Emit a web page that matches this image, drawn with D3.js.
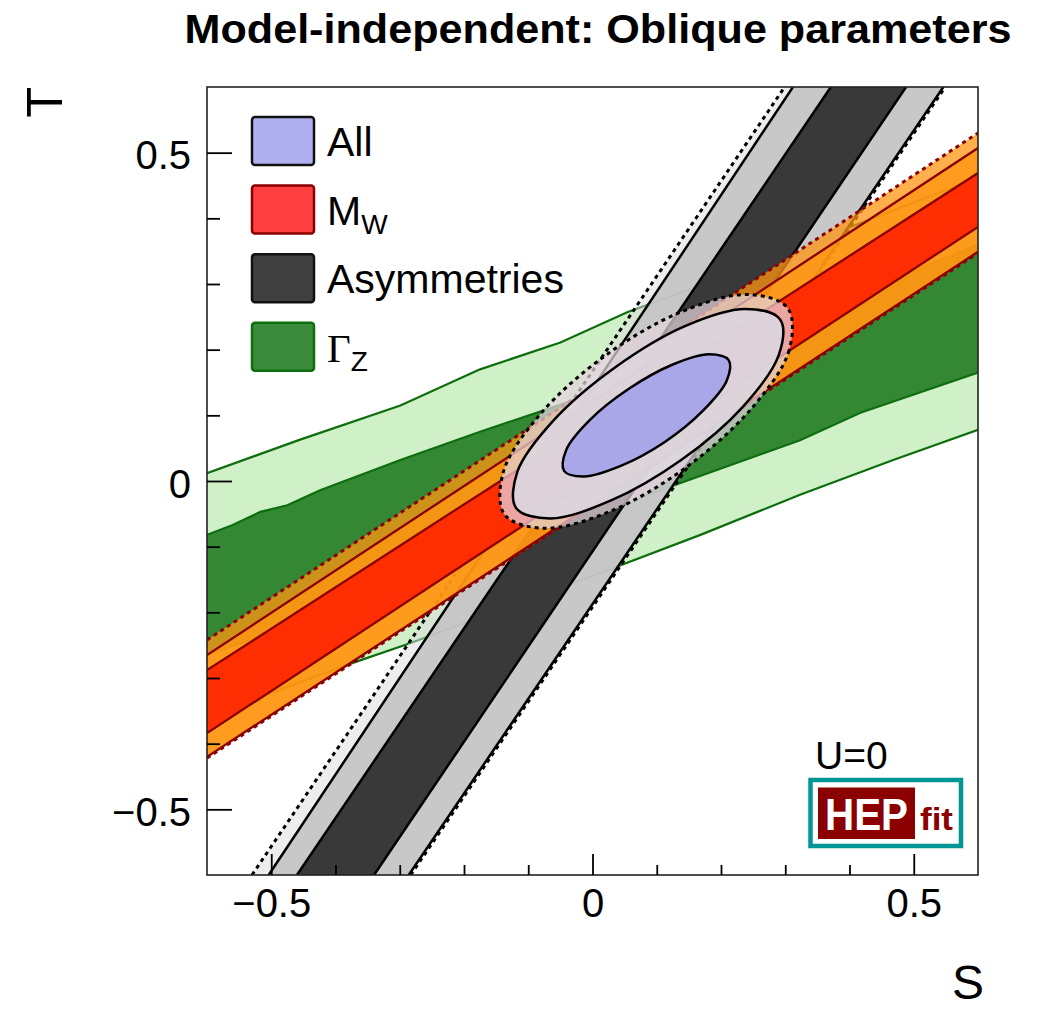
<!DOCTYPE html>
<html>
<head>
<meta charset="utf-8">
<script src="https://cdn.jsdelivr.net/npm/d3@7"></script>
<style>
  body { margin: 0; background: #fff; }
  text { font-family: "Liberation Sans", Arial, Helvetica, sans-serif; }
</style>
</head>
<body>
<svg id="chart" width="1039" height="1009"></svg>
<script>
// axis ranges and ticks
var sRange = [-0.6, 0.6], tRange = [-0.6, 0.6];
var majorTicks = [-0.5, 0, 0.5];
var minorTicks = [-0.4, -0.3, -0.2, -0.1, 0.1, 0.2, 0.3, 0.4];

// Gamma_Z band (68% inner / 95% outer), edges as (S, T)
var gzOuterTopS = [-0.6, -0.455, -0.299, -0.175, -0.050, 0.054, 0.168, 0.323, 0.6];
var gzOuterTopT = [0.012, 0.063, 0.115, 0.170, 0.211, 0.257, 0.298, 0.357, 0.462];
var gzOuterBotS = [-0.6, -0.486, -0.382, -0.284, -0.144, 0.012, 0.168, 0.323, 0.468, 0.6];
var gzOuterBotT = [-0.355, -0.318, -0.280, -0.247, -0.196, -0.140, -0.082, -0.021, 0.032, 0.078];
var gzInnerTopS = [-0.6, -0.560, -0.517, -0.475, -0.424, -0.299, -0.175, -0.050, 0.074, 0.261, 0.6];
var gzInnerTopT = [-0.082, -0.067, -0.047, -0.037, -0.014, 0.032, 0.075, 0.116, 0.158, 0.225, 0.36];
var gzInnerBotS = [-0.6, -0.299, -0.050, 0.137, 0.323, 0.417, 0.6];
var gzInnerBotT = [-0.265, -0.163, -0.070, -0.003, 0.062, 0.104, 0.165];

// M_W band, T at S = -0.6 and S = 0.6
var mwS = [-0.6, 0.6];
var mw3Top = [-0.242, 0.530], mw2Top = [-0.265, 0.507], mw1Top = [-0.288, 0.469];
var mw1Bot = [-0.384, 0.387], mw2Bot = [-0.420, 0.349], mw3Bot = [-0.422, 0.347];

// Asymmetries band, S at T = -0.6 and T = 0.6
var asT = [-0.6, 0.6];
var as3Left = [-0.530, 0.299], as2Left = [-0.504, 0.312], as1Left = [-0.460, 0.371];
var as1Right = [-0.340, 0.488], as2Right = [-0.286, 0.546], as3Right = [-0.283, 0.549];

// All: contour points (S, T)
var all1S = [0.212, 0.209, 0.172, 0.112, 0.044, -0.013, -0.044, -0.041, -0.004, 0.056, 0.124, 0.181];
var all1T = [0.184, 0.153, 0.107, 0.059, 0.023, 0.007, 0.015, 0.047, 0.093, 0.140, 0.177, 0.193];
var all2S = [0.292, 0.290, 0.234, 0.138, 0.028, -0.066, -0.119, -0.117, -0.061, 0.035, 0.144, 0.238];
var all2T = [0.246, 0.192, 0.113, 0.032, -0.030, -0.057, -0.041, 0.014, 0.092, 0.173, 0.236, 0.262];
var all3S = [0.304, 0.306, 0.248, 0.146, 0.028, -0.076, -0.137, -0.139, -0.082, 0.020, 0.139, 0.243];
var all3T = [0.263, 0.199, 0.111, 0.021, -0.046, -0.072, -0.051, 0.013, 0.101, 0.191, 0.258, 0.284];

// legend
var legendNames = ["All", "M", "Asymmetries", "\u0393"];
var legendSubs = ["", "W", "", "Z"];
var legendFill = ["#b0b0f0", "#ff4040", "#404040", "#3c8a3c"];
var legendStroke = ["#111", "#8b0000", "#111", "#0d6e0d"];

var margin = {top: 87, right: 61, bottom: 134, left: 207},
    width = 1039 - margin.left - margin.right,
    height = 1009 - margin.top - margin.bottom;

var svg = d3.select("#chart");
var g = svg.append("g")
    .attr("transform", "translate(" + margin.left + "," + margin.top + ")");

var x = d3.scaleLinear().domain(sRange).range([0, width]);
var y = d3.scaleLinear().domain(tRange).range([height, 0]);

g.append("clipPath").attr("id", "plotclip")
  .append("rect").attr("width", width).attr("height", height);

var plot = g.append("g").attr("clip-path", "url(#plotclip)");

function pts(sArr, tArr) {
  return sArr.map(function(s, i) { return [x(s), y(tArr[i])]; });
}
var line = d3.line();
function poly(a, b) { return line(a.concat(b.slice().reverse())) + "Z"; }
function edge(p, color, w, dash) {
  plot.append("path").attr("d", line(p))
    .attr("fill", "none").attr("stroke", color)
    .attr("stroke-width", w).attr("stroke-dasharray", dash || null);
}

// Gamma_Z
var gzOT = pts(gzOuterTopS, gzOuterTopT), gzOB = pts(gzOuterBotS, gzOuterBotT);
var gzIT = pts(gzInnerTopS, gzInnerTopT), gzIB = pts(gzInnerBotS, gzInnerBotT);
plot.append("path").attr("d", poly(gzOT, gzOB)).attr("fill", "#d0f0c8");
plot.append("path").attr("d", poly(gzIT, gzIB)).attr("fill", "#348834");
[gzOT, gzOB, gzIT, gzIB].forEach(function(p) { edge(p, "#0e6e0e", 2.2); });

// Asymmetries
function asPts(sArr) { return sArr.map(function(s, i) { return [x(s), y(asT[i])]; }); }
var a3L = asPts(as3Left), a2L = asPts(as2Left), a1L = asPts(as1Left),
    a1R = asPts(as1Right), a2R = asPts(as2Right), a3R = asPts(as3Right);
plot.append("path").attr("d", poly(a3L, a3R)).attr("fill", "#dcdcdc").attr("fill-opacity", 0.5);
plot.append("path").attr("d", poly(a2L, a2R)).attr("fill", "#c4c4c4").attr("fill-opacity", 0.92);
plot.append("path").attr("d", poly(a1L, a1R)).attr("fill", "#323232").attr("fill-opacity", 0.95);
[a2L, a1L, a1R, a2R].forEach(function(p) { edge(p, "#000", 2.5); });
[a3L, a3R].forEach(function(p) { edge(p, "#000", 3, "4,4"); });

// M_W
var m3T = pts(mwS, mw3Top), m2T = pts(mwS, mw2Top), m1T = pts(mwS, mw1Top),
    m1B = pts(mwS, mw1Bot), m2B = pts(mwS, mw2Bot), m3B = pts(mwS, mw3Bot);
plot.append("path").attr("d", poly(m3T, m3B)).attr("fill", "#ff9612").attr("fill-opacity", 0.75);
plot.append("path").attr("d", poly(m2T, m2B)).attr("fill", "#ff9612").attr("fill-opacity", 0.78);
plot.append("path").attr("d", poly(m1T, m1B)).attr("fill", "#ff2200").attr("fill-opacity", 0.9);
[m2T, m1T, m1B, m2B].forEach(function(p) { edge(p, "#8b0000", 2.3); });
[m3T, m3B].forEach(function(p) { edge(p, "#8b0000", 3, "4,4"); });

// All
var contourLine = d3.line().curve(d3.curveCatmullRomClosed.alpha(0.5));
plot.append("path").attr("d", contourLine(pts(all3S, all3T)))
  .attr("fill", "#e4d4de").attr("fill-opacity", 0.72)
  .attr("stroke", "#000").attr("stroke-width", 3).attr("stroke-dasharray", "4,4");
plot.append("path").attr("d", contourLine(pts(all2S, all2T)))
  .attr("fill", "#dcd6e0").attr("fill-opacity", 0.9)
  .attr("stroke", "#000").attr("stroke-width", 2.5);
plot.append("path").attr("d", contourLine(pts(all1S, all1T)))
  .attr("fill", "#a9a7e7")
  .attr("stroke", "#000").attr("stroke-width", 2.5);

// frame
g.append("rect").attr("width", width).attr("height", height)
  .attr("fill", "none").attr("stroke", "#222").attr("stroke-width", 1.6);

// axes
function fmt(d) { return d === 0 ? "0" : (d < 0 ? "\u2212" + Math.abs(d) : String(d)); }

var yMajor = g.append("g")
  .call(d3.axisLeft(y).tickValues(majorTicks).tickSize(-25).tickPadding(16).tickFormat(fmt));
var yMinor = g.append("g")
  .call(d3.axisLeft(y).tickValues(minorTicks).tickSize(-13).tickFormat(""));
var xMajor = g.append("g").attr("transform", "translate(0," + height + ")")
  .call(d3.axisBottom(x).tickValues(majorTicks).tickSize(-21).tickPadding(14).tickFormat(fmt));
var xMinor = g.append("g").attr("transform", "translate(0," + height + ")")
  .call(d3.axisBottom(x).tickValues(minorTicks).tickSize(-10).tickFormat(""));

[yMajor, yMinor, xMajor, xMinor].forEach(function(a) {
  a.select(".domain").remove();
  a.selectAll("line").attr("stroke", "#000").attr("stroke-width", 1.8);
  a.selectAll("text").attr("font-size", 40).attr("fill", "#000")
    .attr("font-family", "Liberation Sans, Arial, sans-serif");
});
yMajor.selectAll("text").attr("dy", "0.4em");

// axis titles
svg.append("text").attr("transform", "translate(62,87) rotate(-90)")
  .attr("text-anchor", "end").attr("font-size", 50).text("T");
svg.append("text").attr("x", 984).attr("y", 999)
  .attr("text-anchor", "end").attr("font-size", 48).text("S");

// title
svg.append("text").attr("x", 598).attr("y", 43)
  .attr("text-anchor", "middle").attr("font-size", 40).attr("font-weight", "bold")
  .attr("textLength", 827).attr("lengthAdjust", "spacingAndGlyphs")
  .text("Model-independent: Oblique parameters");

// legend
var leg = svg.append("g").attr("transform", "translate(252,117)");
legendNames.forEach(function(name, i) {
  var row = leg.append("g").attr("transform", "translate(0," + (i * 68.6) + ")");
  row.append("rect").attr("width", 62).attr("height", 48).attr("rx", 3)
    .attr("fill", legendFill[i]).attr("stroke", legendStroke[i]).attr("stroke-width", 2.5);
  var t = row.append("text").attr("x", 75).attr("y", 39).attr("font-size", 41);
  t.append("tspan").text(name)
    .attr("font-family", name === "\u0393" ? "Liberation Serif, Times New Roman, serif" : null);
  if (legendSubs[i]) {
    t.append("tspan").attr("dy", 9).attr("font-size", 28).text(legendSubs[i]);
  }
});

// U=0 and logo
svg.append("text").attr("x", 815).attr("y", 769).attr("font-size", 39).text("U=0");
var logo = svg.append("g");
logo.append("rect").attr("x", 810.5).attr("y", 780).attr("width", 150.5).attr("height", 66)
  .attr("fill", "#fff").attr("stroke", "#009696").attr("stroke-width", 4.5);
logo.append("rect").attr("x", 818).attr("y", 787.5).attr("width", 97).attr("height", 51.5)
  .attr("fill", "#8b0000");
logo.append("text").attr("x", 825).attr("y", 830).attr("font-size", 44).attr("font-weight", "bold")
  .attr("fill", "#fff").attr("textLength", 83).attr("lengthAdjust", "spacingAndGlyphs").text("HEP");
logo.append("text").attr("x", 920).attr("y", 830).attr("font-size", 31).attr("font-weight", "bold")
  .attr("fill", "#8b0000").attr("textLength", 33).attr("lengthAdjust", "spacingAndGlyphs").text("fit");
</script>
</body>
</html>
